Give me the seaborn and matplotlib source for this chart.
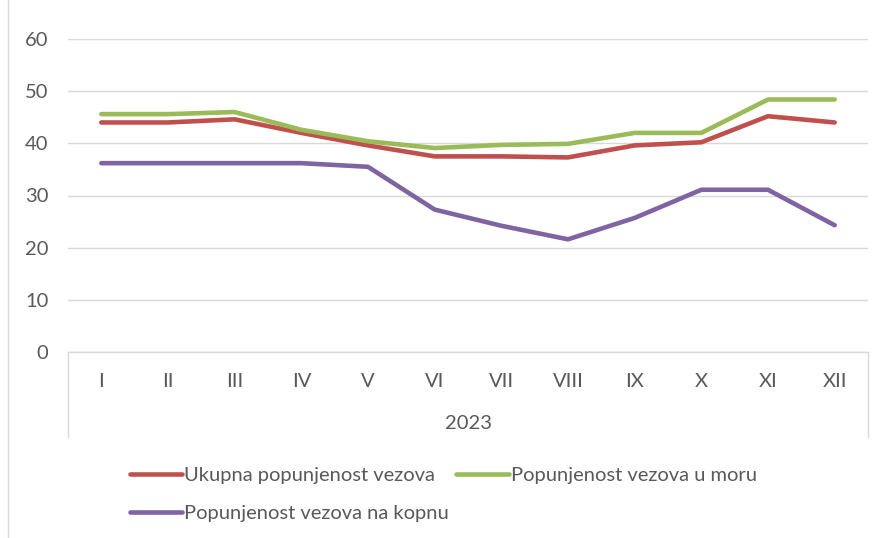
import pandas as pd
import seaborn as sns
import matplotlib.pyplot as plt
from matplotlib.lines import Line2D

# data
months = ['I', 'II', 'III', 'IV', 'V', 'VI', 'VII', 'VIII', 'IX', 'X', 'XI', 'XII']
ukupno = [44.0, 44.0, 44.6, 42.0, 39.6, 37.5, 37.5, 37.3, 39.6, 40.2, 45.2, 44.0]
more = [45.6, 45.6, 46.0, 42.6, 40.4, 39.1, 39.7, 39.9, 42.0, 42.0, 48.4, 48.4]
kopno = [36.2, 36.2, 36.2, 36.2, 35.5, 27.3, 24.2, 21.6, 25.7, 31.1, 31.1, 24.3]
year = '2023'

names = ['Ukupna popunjenost vezova', 'Popunjenost vezova u moru', 'Popunjenost vezova na kopnu']
colors = ['#C0504D', '#9BBB59', '#8064A2']

df = pd.concat([
    pd.DataFrame({'mjesec': months, 'pos': range(len(months)), 'vrijednost': vals, 'serija': n})
    for n, vals in zip(names, [ukupno, more, kopno])
])

sns.set_style('white')
plt.rcParams['font.family'] = ['Lato', 'DejaVu Sans']
grey = '#595959'
fs = 14.5

fig = plt.figure(figsize=(8.83, 5.38), dpi=100)
ax = fig.add_axes([68 / 883, 1 - 352 / 538, 800 / 883, 313 / 538])

sns.lineplot(data=df, x='pos', y='vrijednost', hue='serija', hue_order=names,
             palette=colors, linewidth=3.3, ax=ax, legend=False,
             solid_capstyle='round')

ax.set_xlim(-0.5, len(months) - 0.5)
ax.set_ylim(0, 60)
ax.set_yticks(range(0, 61, 10))
ax.set_xticks(range(len(months)))
ax.set_xticklabels(months)
ax.yaxis.grid(True, color='#D9D9D9', linewidth=1)
ax.set_axisbelow(True)
for s in ['top', 'right', 'left']:
    ax.spines[s].set_visible(False)
ax.spines['bottom'].set_color('#D9D9D9')
ax.spines['bottom'].set_linewidth(1)
ax.tick_params(axis='x', length=0, pad=15, labelsize=fs, labelcolor=grey)
ax.tick_params(axis='y', length=0, pad=14, labelsize=fs, labelcolor=grey)
ax.set_xlabel(year, fontsize=fs, color=grey, labelpad=18)
ax.set_ylabel('')

# multi-level category box edges
depth = (437 - 352) / 313
for xa in [0, 1]:
    ax.add_line(Line2D([xa, xa], [0, -depth], transform=ax.transAxes,
                       color='#D9D9D9', linewidth=1, clip_on=False))

# chart border on the left
fig.add_artist(Line2D([8 / 883, 8 / 883], [0, 1], transform=fig.transFigure,
                      color='#D9D9D9', linewidth=1))

handles = [Line2D([], [], color=c, linewidth=3.3, solid_capstyle='round') for c in colors]
order = [0, 2, 1]
leg = fig.legend([handles[i] for i in order], [names[i] for i in order],
                 ncol=2, loc='upper left', bbox_to_anchor=(120 / 883, 1 - 457 / 538),
                 frameon=False, fontsize=fs, handlelength=2.6, handletextpad=0.1,
                 columnspacing=0.35, labelspacing=1.05, borderpad=0)
for t in leg.get_texts():
    t.set_color(grey)

plt.savefig('out.png', dpi=100)
